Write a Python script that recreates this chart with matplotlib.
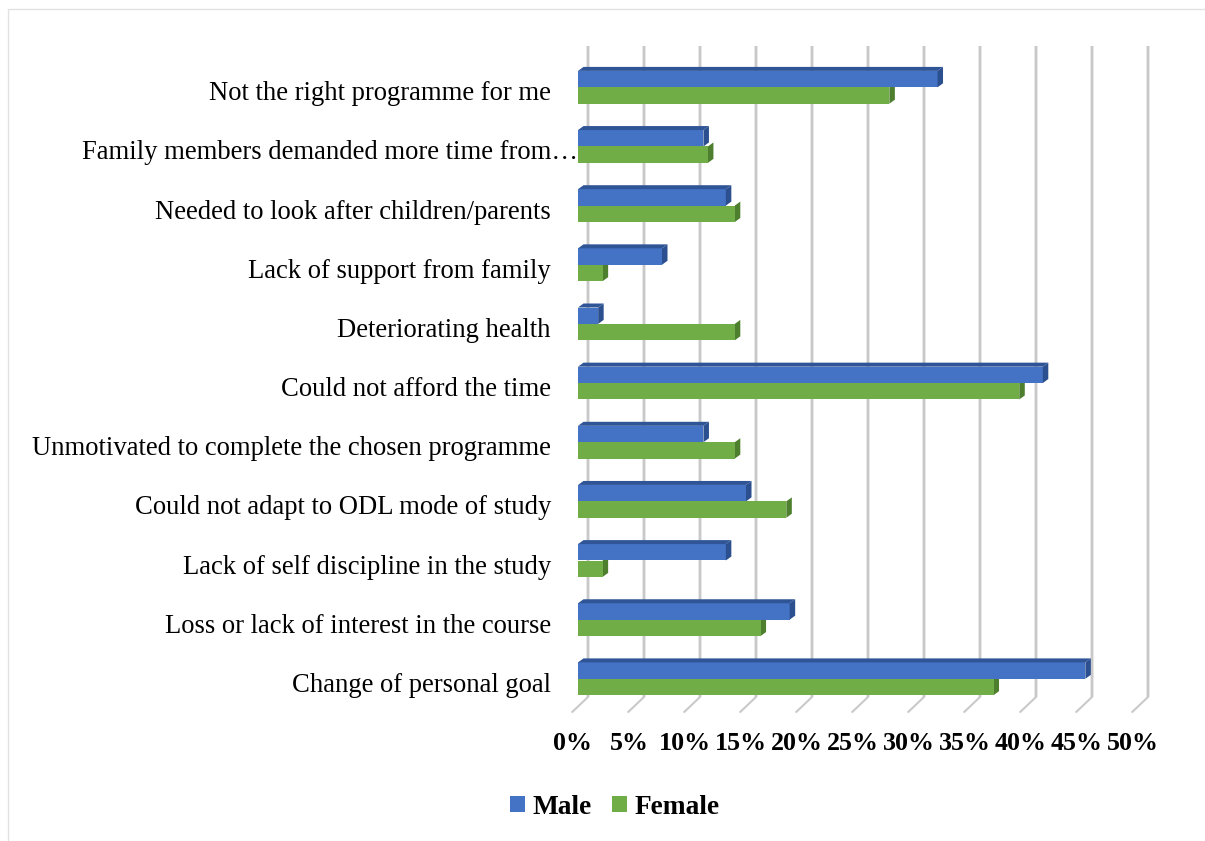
import matplotlib
matplotlib.use("Agg")
import matplotlib.pyplot as plt
from matplotlib.patches import Polygon, Patch
from matplotlib.lines import Line2D
from matplotlib.transforms import ScaledTranslation
import numpy as np

categories = ["Not the right programme for me",
              "Family members demanded more time from…",
              "Needed to look after children/parents",
              "Lack of support from family",
              "Deteriorating health",
              "Could not afford the time",
              "Unmotivated to complete the chosen programme",
              "Could not adapt to ODL mode of study",
              "Lack of self discipline in the study",
              "Loss or lack of interest in the course",
              "Change of personal goal"]
male = [32.1, 11.2, 13.2, 7.5, 1.8, 41.5, 11.2, 15.0, 13.2, 18.9, 45.3]
female = [27.8, 11.6, 14.0, 2.2, 14.0, 39.4, 14.0, 18.6, 2.2, 16.3, 37.1]
xticks = [0, 5, 10, 15, 20, 25, 30, 35, 40, 45, 50]

W, H = 1205, 841
X0, PX = 578.0, 11.2      # pixel of 0 % on the bar front, pixels per percent
Y0, PY = 87.3, 59.15      # pixel of first category centre, pixels per category
LEFT, RIGHT = 568.0, X0 + 50 * PX
TOP, BOT = 46.0, 712.0

fig = plt.figure(figsize=(W / 100, H / 100), dpi=100, facecolor="white")
ax = fig.add_axes([LEFT / W, 1 - BOT / H, (RIGHT - LEFT) / W, (BOT - TOP) / H])
for s in ax.spines.values():
    s.set_visible(False)
ax.set_facecolor("none")

px = lambda p: p / PX     # pixel lengths to data units
py = lambda p: p / PY

XLIM = ((LEFT - X0) / PX, 50)
YLIM = ((BOT - Y0) / PY, (TOP - Y0) / PY)
BAR_H = py(16.4)
DX, DY = px(5.5), py(4.0)
BLUE, BLUE_TOP, BLUE_SIDE = "#4472C4", "#2F5597", "#2B4F8F"
GREEN, GREEN_SIDE = "#70AD47", "#4E7F2E"
GRID, GRID_L = "#C9C9C9", "#E4E4E4"

y = np.arange(len(categories), dtype=float)

# back-wall and floor gridlines
wall_bottom = (697 - Y0) / PY
for v in xticks:
    xb = v + px(10)
    ax.plot([xb, xb], [wall_bottom, YLIM[1]], color=GRID_L, lw=2.6,
            solid_capstyle="butt", clip_on=False, zorder=1)
    ax.plot([xb, xb], [wall_bottom, YLIM[1]], color=GRID, lw=1.5,
            solid_capstyle="butt", clip_on=False, zorder=1.1)
    ax.plot([xb, v - px(5.8)], [wall_bottom, YLIM[0]], color=GRID, lw=1.5,
            solid_capstyle="round", clip_on=False, zorder=1.1)

ax.barh(y - BAR_H / 2, male, height=BAR_H, color=BLUE, zorder=3)
ax.barh(y + BAR_H / 2, female, height=BAR_H, color=GREEN, zorder=3)

for yi, m, f in zip(y, male, female):
    # side face of the male and female bars, top face of the male bar
    ax.add_patch(Polygon([(f, yi), (f + DX, yi - DY), (f + DX, yi + BAR_H - DY), (f, yi + BAR_H)],
                         closed=True, fc=GREEN_SIDE, ec="none", zorder=2.5))
    ax.add_patch(Polygon([(m, yi - BAR_H), (m + DX, yi - BAR_H - DY), (m + DX, yi - DY), (m, yi)],
                         closed=True, fc=BLUE_SIDE, ec="none", zorder=3.2))
    ax.add_patch(Polygon([(0, yi - BAR_H), (DX, yi - BAR_H - DY), (m + DX, yi - BAR_H - DY), (m, yi - BAR_H)],
                         closed=True, fc=BLUE_TOP, ec="none", zorder=3.2))

ax.set_yticks(y + py(3.5), categories, family="Liberation Serif", fontsize=19.2, color="black")
ax.tick_params(axis="y", length=0, pad=12.3)
ax.set_xticks(np.array(xticks) - px(5), [f"{v}%" for v in xticks],
              family="Liberation Serif", fontsize=18.7, fontweight="bold", color="black")
ax.tick_params(axis="x", length=0, pad=14.5)
ax.set_xlim(*XLIM)
ax.set_ylim(*YLIM)

# the truncated label runs on to the edge of the bars
lab = ax.get_yticklabels()[1]
lab.set_transform(lab.get_transform() + ScaledTranslation(27 / 100, 0, fig.dpi_scale_trans))

# chart-area border
fig.add_artist(Line2D([8 / W, 8 / W, 1], [0, 1 - 9 / H, 1 - 9 / H], color="#E2E2E2", lw=1))

handles = [Patch(fc=BLUE, label="Male"), Patch(fc=GREEN, label="Female")]
fig.legend(handles=handles, loc="center", bbox_to_anchor=(615 / W, 1 - 807 / H), ncol=2, frameon=False,
           prop=dict(family="Liberation Serif", size=19.7, weight="bold"),
           handlelength=0.55, handleheight=0.55, handletextpad=0.28, columnspacing=0.74, borderpad=0)

fig.savefig("out.png", dpi=100, facecolor="white")
